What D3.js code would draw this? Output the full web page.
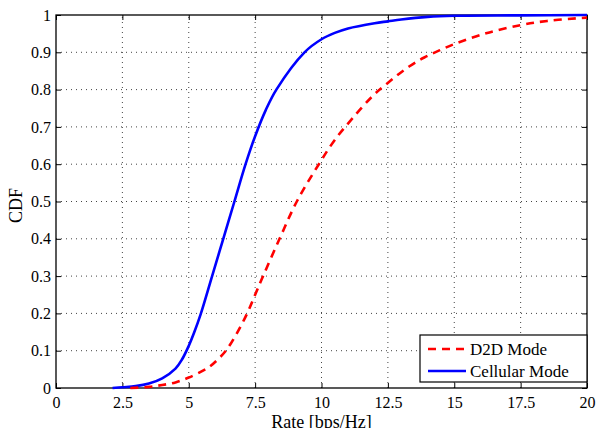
<!DOCTYPE html>
<html>
<head>
<meta charset="utf-8">
<script src="https://cdn.jsdelivr.net/npm/d3@7"></script>
<style>
  body { margin: 0; background: white; }
  svg text { font-family: "Liberation Serif", "Times New Roman", serif; }
</style>
</head>
<body>
<script>
// data
var d2dRate = [2.8, 3.5, 4.0, 4.5, 5.0, 5.5, 5.8, 6.1, 6.4, 6.8, 7.2, 7.5, 7.8, 8.42, 9.07, 9.9, 10.5, 11.18, 11.93, 12.43, 13.3, 13.87, 14.44, 15.0, 16.2, 17.5, 18.5, 19.6, 20];
var d2dCdf  = [0, 0.003, 0.008, 0.015, 0.028, 0.045, 0.058, 0.077, 0.1, 0.145, 0.2, 0.25, 0.3, 0.4, 0.5, 0.6, 0.665, 0.724, 0.783, 0.814, 0.862, 0.886, 0.905, 0.922, 0.951, 0.973, 0.984, 0.991, 0.993];

var cellRate = [2.13, 2.5, 3.0, 3.5, 4.0, 4.5, 4.75, 5.0, 5.2, 5.45, 5.88, 6.3, 6.72, 7.14, 7.5, 7.9, 8.3, 9.36, 10.0, 10.5, 11.0, 12.0, 12.5, 13.0, 14.0, 15.0, 17.5, 20];
var cellCdf  = [0, 0.002, 0.005, 0.012, 0.026, 0.052, 0.077, 0.113, 0.148, 0.198, 0.3, 0.4, 0.5, 0.6, 0.675, 0.745, 0.8, 0.9, 0.935, 0.952, 0.964, 0.978, 0.983, 0.988, 0.995, 0.998, 0.999, 1.0];

var xTicks = [0, 2.5, 5, 7.5, 10, 12.5, 15, 17.5, 20];
var yTicks = [0, 0.1, 0.2, 0.3, 0.4, 0.5, 0.6, 0.7, 0.8, 0.9, 1];
var seriesNames = ["D2D Mode", "Cellular Mode"];

var width = 599, height = 428;
var margin = {top: 15, right: 12, bottom: 40, left: 56};
var serif = "'Liberation Serif', 'Times New Roman', serif";

var svg = d3.select("body").append("svg")
    .attr("width", width)
    .attr("height", height);

var x = d3.scaleLinear().domain([0, 20]).range([margin.left, width - margin.right]);
var y = d3.scaleLinear().domain([0, 1]).range([height - margin.bottom, margin.top]);

// grid
var grid = svg.append("g")
    .attr("stroke", "#444")
    .attr("stroke-width", 1)
    .attr("stroke-dasharray", "1,4");
grid.selectAll(".gx").data(xTicks.slice(1, -1)).enter().append("line")
    .attr("x1", d => x(d)).attr("x2", d => x(d))
    .attr("y1", y(0)).attr("y2", y(1));
grid.selectAll(".gy").data(yTicks.slice(1, -1)).enter().append("line")
    .attr("y1", d => y(d)).attr("y2", d => y(d))
    .attr("x1", x(0)).attr("x2", x(20));

// axes, matlab style inner ticks on all sides
var axes = svg.append("g");
axes.append("g")
    .attr("transform", "translate(0," + y(0) + ")")
    .call(d3.axisBottom(x).tickValues(xTicks).tickSize(-5).tickPadding(9).tickFormat(d3.format("")));
axes.append("g")
    .attr("transform", "translate(0," + y(1) + ")")
    .call(d3.axisTop(x).tickValues(xTicks).tickSize(-5).tickFormat(""));
axes.append("g")
    .attr("transform", "translate(" + x(0) + ",0)")
    .call(d3.axisLeft(y).tickValues(yTicks).tickSize(-5).tickPadding(5).tickFormat(d3.format("")));
axes.append("g")
    .attr("transform", "translate(" + x(20) + ",0)")
    .call(d3.axisRight(y).tickValues(yTicks).tickSize(-5).tickFormat(""));

axes.selectAll("g").attr("font-family", null).attr("font-size", null);
axes.selectAll(".domain").remove();
axes.selectAll(".tick line").attr("stroke", "#000");
axes.selectAll(".tick text")
    .attr("fill", "#000")
    .style("font-family", serif)
    .style("font-size", "16px");

svg.append("rect")
    .attr("x", x(0)).attr("y", y(1))
    .attr("width", x(20) - x(0)).attr("height", y(0) - y(1))
    .attr("fill", "none")
    .attr("stroke", "#000")
    .attr("stroke-width", 1.3);

// curves
var line = d3.line()
    .x(d => x(d[0]))
    .y(d => y(d[1]))
    .curve(d3.curveCatmullRom.alpha(0.5));

svg.append("path")
    .datum(d3.zip(cellRate, cellCdf))
    .attr("d", line)
    .attr("fill", "none")
    .attr("stroke", "#0000ff")
    .attr("stroke-width", 2.6);

svg.append("path")
    .datum(d3.zip(d2dRate, d2dCdf))
    .attr("d", line)
    .attr("fill", "none")
    .attr("stroke", "#ff0000")
    .attr("stroke-width", 2.6)
    .attr("stroke-dasharray", "8,6");

// labels
svg.append("text")
    .attr("x", x(10))
    .attr("y", 428)
    .attr("text-anchor", "middle")
    .style("font-family", serif)
    .style("font-size", "18px")
    .text("Rate [bps/Hz]");

svg.append("text")
    .attr("transform", "translate(22," + (y(0.5) + 4) + ") rotate(-90)")
    .attr("text-anchor", "middle")
    .style("font-family", serif)
    .style("font-size", "18px")
    .text("CDF");

// legend
var lg = svg.append("g").attr("transform", "translate(420,335)");
lg.append("rect")
    .attr("width", 167).attr("height", 47)
    .attr("fill", "white")
    .attr("stroke", "#000")
    .attr("stroke-width", 1.2);
var entries = lg.selectAll(".entry").data(seriesNames).enter().append("g")
    .attr("transform", (d, i) => "translate(0," + (14 + i * 22) + ")");
entries.append("line")
    .attr("x1", 8).attr("x2", 46)
    .attr("stroke", (d, i) => i === 0 ? "#ff0000" : "#0000ff")
    .attr("stroke-width", 2.6)
    .attr("stroke-dasharray", (d, i) => i === 0 ? "8,6" : null);
entries.append("text")
    .attr("x", 50)
    .attr("dy", "0.35em")
    .style("font-family", serif)
    .style("font-size", "17px")
    .text(d => d);
</script>
</body>
</html>
